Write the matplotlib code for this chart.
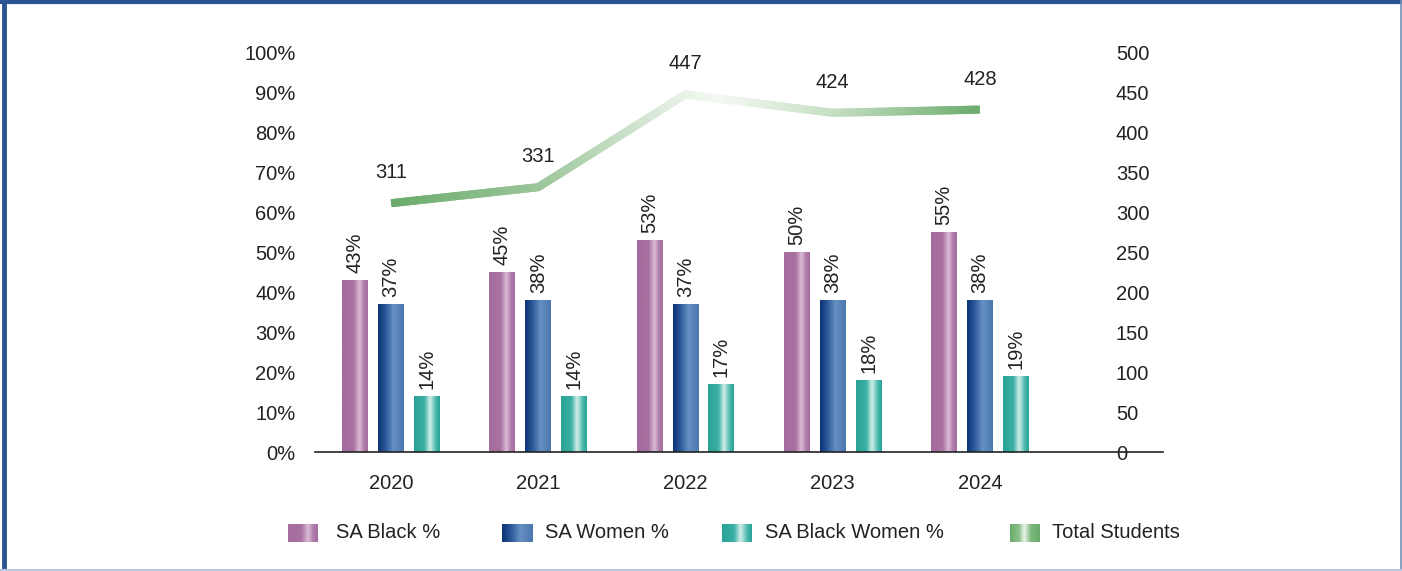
import matplotlib
matplotlib.use("Agg")
import matplotlib.pyplot as plt
import numpy as np
from matplotlib.colors import LinearSegmentedColormap
from matplotlib.collections import LineCollection
from matplotlib.lines import Line2D

plt.rcParams['font.family'] = ['Liberation Sans', 'DejaVu Sans']

# data
years = ['2020', '2021', '2022', '2023', '2024']
sa_black = [43, 45, 53, 50, 55]
sa_women = [37, 38, 37, 38, 38]
sa_black_women = [14, 14, 17, 18, 19]
total_students = [311, 331, 447, 424, 428]
series_names = ['SA Black %', 'SA Women %', 'SA Black Women %', 'Total Students']

# cylinder-like gradients
cm_purple = LinearSegmentedColormap.from_list(
    'p', [(0, '#a46c9f'), (0.45, '#a9729f'), (0.68, '#dcbcd8'), (0.85, '#b07dab'), (1, '#a46c9f')])
cm_blue = LinearSegmentedColormap.from_list(
    'b', [(0, '#0b3275'), (0.3, '#2d5b9b'), (0.6, '#6790c3'), (1, '#4a77ae')])
cm_teal = LinearSegmentedColormap.from_list(
    't', [(0, '#28a396'), (0.4, '#3bb0a4'), (0.62, '#d2efea'), (0.85, '#4bb8ad'), (1, '#28a396')])
cm_green = LinearSegmentedColormap.from_list(
    'g', [(0, '#6aab6c'), (0.25, '#9cc69b'), (0.5, '#eaf3e9'), (0.56, '#f4f9f3'),
          (0.75, '#c5dfc3'), (1, '#6aab6c')])
cm_green_leg = LinearSegmentedColormap.from_list(
    'gl', [(0, '#6aab6c'), (0.3, '#8cc08c'), (0.48, '#eef6ed'), (0.7, '#7db77e'), (1, '#6aab6c')])

grad = np.linspace(0, 1, 64).reshape(1, -1)

W, H = 1402, 571
fig = plt.figure(figsize=(W / 100, H / 100), dpi=100)
ax = fig.add_axes([315 / W, (H - 452) / H, (1163 - 315) / W, 400 / H])
ax2 = ax.twinx()

x = np.arange(len(years))
bw = 0.176
gap = 0.244
fs = 14.5

def gradient_bar(xc, h, cmap):
    ax.imshow(grad, cmap=cmap, aspect='auto', extent=(xc - bw / 2, xc + bw / 2, 0, h),
              interpolation='bicubic', zorder=2)

for vals, off, cmap in [(sa_black, -gap, cm_purple), (sa_women, 0, cm_blue),
                        (sa_black_women, gap, cm_teal)]:
    for xi, v in zip(x, vals):
        gradient_bar(xi + off, v / 100, cmap)
        ax.annotate(f'{v}%', (xi + off, v / 100), xytext=(0, 5), textcoords='offset points',
                    rotation=90, ha='center', va='bottom', fontsize=fs, color='#222222')

ax.set_xlim(-0.516, 5.243)
ax.set_ylim(0, 1)
ax.set_yticks(np.linspace(0, 1, 11))
ax.set_yticklabels([f'{int(round(t * 100))}%' for t in np.linspace(0, 1, 11)])
ax.set_xticks(x)
ax.set_xticklabels(years)
ax.tick_params(axis='y', length=0, pad=14, labelsize=fs, labelcolor='#222222')
ax.tick_params(axis='x', length=0, pad=16, labelsize=fs, labelcolor='#222222')
for s in ['top', 'left', 'right']:
    ax.spines[s].set_visible(False)
ax.spines['bottom'].set_color('#222222')
ax.spines['bottom'].set_linewidth(1.2)

# total students line with gradient on the right axis
ax2.set_ylim(0, 500)
ax2.set_yticks(np.arange(0, 501, 50))
ax2.tick_params(axis='y', length=0, pad=-34, labelsize=fs, labelcolor='#222222')
for lab in ax2.get_yticklabels():
    lab.set_horizontalalignment('left')
for s in ['top', 'left', 'right', 'bottom']:
    ax2.spines[s].set_visible(False)

# split the polyline into short pieces so the colour can change along it;
# each piece spans two steps so neighbouring pieces overlap (no seams)
xs = []
ys = []
for i in range(len(x) - 1):
    t = np.linspace(0, 1, 60, endpoint=False)
    xs.extend(x[i] + t)
    ys.extend(total_students[i] + (total_students[i + 1] - total_students[i]) * t)
xs.append(x[-1])
ys.append(total_students[-1])
pts = np.column_stack([xs, ys])
segs = [pts[i:i + 3] for i in range(len(pts) - 2)]
cvals = (np.array(xs[:-2]) - x[0]) / (x[-1] - x[0])
lc = LineCollection(segs, cmap=cm_green, linewidths=5.8, capstyle='butt',
                    joinstyle='miter', zorder=3)
lc.set_array(cvals)
lc.set_clim(0, 1)
ax2.add_collection(lc)
for xi, v in zip(x, total_students):
    ax2.annotate(str(v), (xi, v), xytext=(0, 22), textcoords='offset points',
                 ha='center', va='center', fontsize=fs, color='#222222')

# legend drawn by hand
leg_y = 524
leg_items = [(288, 336, cm_purple), (502, 545, cm_blue), (722, 765, cm_teal), (1010, 1052, cm_green_leg)]
for (px, tx, cmap), name in zip(leg_items, series_names):
    lax = fig.add_axes([px / W, (H - leg_y - 18) / H, 30 / W, 18 / H])
    lax.imshow(grad, cmap=cmap, aspect='auto', interpolation='bicubic')
    lax.axis('off')
    fig.text(tx / W, (H - leg_y - 9) / H, name, ha='left', va='center',
             fontsize=fs, color='#222222')

# outer frame
fig.add_artist(Line2D([4 / W, 4 / W], [0, 1], color='#2b5592', lw=3.5, transform=fig.transFigure))
fig.add_artist(Line2D([0, 1], [1 - 2 / H, 1 - 2 / H], color='#2b5592', lw=3, transform=fig.transFigure))
fig.add_artist(Line2D([1 - 1.5 / W, 1 - 1.5 / W], [0, 1], color='#6f8fb8', lw=1.2, transform=fig.transFigure))
fig.add_artist(Line2D([0, 1], [1.5 / H, 1.5 / H], color='#b5c8dd', lw=1.5, transform=fig.transFigure))

fig.savefig('out.png', dpi=100)
